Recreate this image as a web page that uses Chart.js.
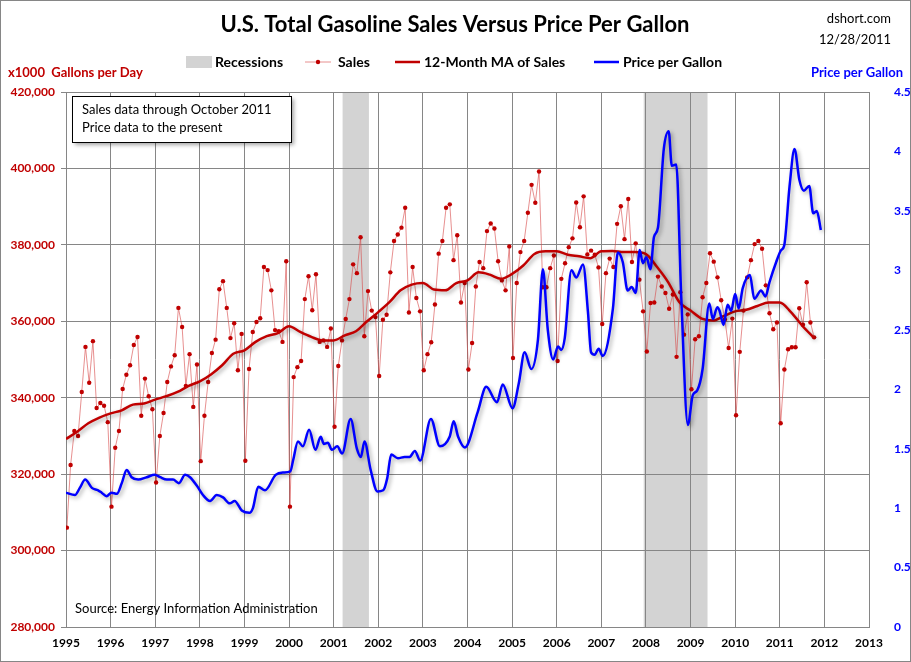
<!DOCTYPE html>
<html>
<head>
<meta charset="utf-8">
<script src="https://cdn.jsdelivr.net/npm/chart.js@4.4.1/dist/chart.umd.min.js"></script>
<style>
  html, body { margin: 0; padding: 0; background: #fff; }
  #wrap { width: 911px; height: 662px; position: relative; }
</style>
</head>
<body>
<div id="wrap"><canvas id="chart" width="911" height="662"></canvas></div>
<script>
const FONT = 'Lato, "Open Sans", sans-serif';

// monthly sales, x1000 gallons per day, Jan 1995 .. Oct 2011
const sales = [
  306000, 322400, 331300, 330000, 341500, 353300, 343900, 354800, 337300, 338600, 337900, 333600, // 1995
  311500, 326900, 331300, 342300, 346000, 348500, 353800, 355900, 335300, 345000, 340400, 337000, // 1996
  317800, 330000, 336000, 344100, 348200, 351100, 363500, 358500, 343100, 351400, 337600, 348700, // 1997
  323400, 335300, 344100, 351700, 355200, 368400, 370500, 363500, 355600, 359500, 347200, 356700, // 1998
  323500, 347500, 357200, 359800, 360800, 374200, 373400, 368100, 357700, 357400, 354600, 375700, // 1999
  311500, 345400, 348000, 349600, 365800, 371800, 362900, 372300, 354600, 355000, 353300, 358100, // 2000
  332400, 348300, 355000, 360600, 365800, 374900, 372600, 382000, 356100, 367900, 362800, 361100, // 2001
  345700, 360400, 361700, 372800, 381000, 382700, 384500, 389700, 362300, 374200, 366100, 362600, // 2002
  347200, 351400, 354500, 364400, 377700, 381000, 389700, 390600, 376000, 382500, 364900, 370000, // 2003
  347400, 354300, 369100, 375500, 373900, 383600, 385600, 384300, 375700, 370700, 368100, 379600, // 2004
  350400, 370000, 378100, 381000, 388400, 395700, 391000, 399200, 368900, 368900, 373900, 377200, // 2005
  349600, 371100, 375200, 379400, 381700, 391100, 384600, 392700, 377500, 378500, 377400, 374100, // 2006
  359300, 372600, 376400, 374200, 385500, 390100, 381500, 392000, 375500, 380400, 370900, 362600, // 2007
  352100, 364800, 364900, 371700, 369100, 367400, 363300, 367000, 350700, 367600, 356500, 361800, // 2008
  342200, 355300, 356100, 366300, 370000, 377800, 375600, 371500, 365500, 360500, 353000, 360700, // 2009
  335400, 352000, 362800, 371500, 376000, 380200, 381000, 379000, 369400, 362100, 357900, 359700, // 2010
  333300, 347400, 352700, 353200, 353200, 363400, 359100, 370200, 359700, 355800                  // 2011
];

// 12-month moving average, read quarterly
const maYears = [
  1995.00, 1995.25, 1995.50, 1995.75, 1996.00, 1996.25, 1996.50, 1996.75,
  1997.00, 1997.25, 1997.50, 1997.75, 1998.00, 1998.25, 1998.50, 1998.75,
  1999.00, 1999.25, 1999.50, 1999.75, 2000.00, 2000.25, 2000.50, 2000.75,
  2001.00, 2001.25, 2001.50, 2001.75, 2002.00, 2002.25, 2002.50, 2002.75,
  2003.00, 2003.25, 2003.50, 2003.75, 2004.00, 2004.25, 2004.50, 2004.75,
  2005.00, 2005.25, 2005.50, 2005.75, 2006.00, 2006.25, 2006.50, 2006.75,
  2007.00, 2007.25, 2007.50, 2007.75, 2008.00, 2008.25, 2008.50, 2008.75,
  2009.00, 2009.25, 2009.50, 2009.75, 2010.00, 2010.25, 2010.50, 2010.75,
  2011.00, 2011.25, 2011.50, 2011.77
];
const maValues = [
  329200, 331100, 333300, 334800, 335900, 336700, 338200, 338500,
  339500, 340400, 341500, 343100, 344300, 346100, 348500, 351500,
  352400, 354600, 356100, 356900, 358700, 357200, 355900, 355000,
  355000, 356300, 357400, 360000, 362400, 365000, 368100, 369600,
  370000, 368300, 368100, 370000, 370700, 372800, 372200, 371100,
  372400, 374600, 377600, 378300, 378300, 377400, 377000, 376500,
  378300, 378400, 378100, 378100, 377600, 374200, 370200, 365000,
  362800, 360700, 360200, 361400, 362600, 363000, 364000, 364900,
  364900, 362400, 358900, 355600
];

// price per gallon ($)
const priceYears = [
  1995.00, 1995.20, 1995.31, 1995.43, 1995.58, 1995.72, 1995.80, 1995.91,
  1996.02, 1996.14, 1996.25, 1996.36, 1996.47, 1996.62, 1996.81, 1996.99,
  1997.11, 1997.26, 1997.40, 1997.53, 1997.67, 1997.78, 1997.93, 1998.07,
  1998.23, 1998.38, 1998.52, 1998.67, 1998.78, 1998.94, 1999.11, 1999.19,
  1999.31, 1999.46, 1999.70, 1999.87, 2000.03, 2000.09, 2000.20, 2000.31,
  2000.45, 2000.59, 2000.71, 2000.78, 2000.87, 2000.96, 2001.08, 2001.19,
  2001.38, 2001.52, 2001.61, 2001.69, 2001.83, 2001.98, 2002.11, 2002.20,
  2002.29, 2002.44, 2002.59, 2002.70, 2002.82, 2002.94, 2003.18, 2003.38,
  2003.60, 2003.69, 2003.79, 2003.94, 2004.23, 2004.42, 2004.66, 2004.79,
  2005.01, 2005.15, 2005.28, 2005.43, 2005.58, 2005.69, 2005.80, 2005.92,
  2006.03, 2006.10, 2006.18, 2006.33, 2006.44, 2006.59, 2006.70, 2006.77,
  2006.85, 2006.94, 2007.03, 2007.26, 2007.37, 2007.48, 2007.59, 2007.68,
  2007.77, 2007.86, 2007.93, 2008.01, 2008.10, 2008.18, 2008.27, 2008.40,
  2008.51, 2008.58, 2008.68, 2008.79, 2008.94, 2009.05, 2009.15, 2009.27,
  2009.42, 2009.50, 2009.60, 2009.65, 2009.74, 2009.83, 2009.91, 2010.00,
  2010.08, 2010.17, 2010.33, 2010.43, 2010.58, 2010.68, 2010.77, 2010.92,
  2011.03, 2011.10, 2011.22, 2011.33, 2011.44, 2011.54, 2011.66, 2011.75,
  2011.83, 2011.92
];
const priceValues = [
  1.13, 1.11, 1.17, 1.24, 1.17, 1.15, 1.13, 1.10,
  1.13, 1.12, 1.21, 1.32, 1.26, 1.24, 1.26, 1.28,
  1.26, 1.24, 1.24, 1.21, 1.28, 1.26, 1.19, 1.11,
  1.06, 1.11, 1.09, 1.04, 1.06, 0.98, 0.96, 1.00,
  1.18, 1.15, 1.28, 1.30, 1.31, 1.40, 1.56, 1.52,
  1.66, 1.49, 1.60, 1.54, 1.55, 1.49, 1.52, 1.46,
  1.75, 1.50, 1.43, 1.56, 1.32, 1.14, 1.15, 1.25,
  1.45, 1.42, 1.43, 1.43, 1.48, 1.40, 1.75, 1.52,
  1.60, 1.73, 1.60, 1.51, 1.81, 2.02, 1.89, 2.04,
  1.84, 2.05, 2.31, 2.17, 2.42, 3.01, 2.50, 2.25,
  2.36, 2.33, 2.43, 3.00, 2.94, 3.05, 2.65, 2.31,
  2.29, 2.34, 2.28, 2.68, 3.15, 3.07, 2.83, 2.86,
  2.81, 3.17, 3.06, 3.11, 3.01, 3.28, 3.36, 4.02,
  4.17, 3.88, 3.89, 2.79, 1.70, 1.95, 1.99, 2.17,
  2.72, 2.59, 2.69, 2.66, 2.54, 2.71, 2.66, 2.80,
  2.68, 2.85, 2.96, 2.76, 2.83, 2.78, 2.90, 3.07,
  3.17, 3.21, 3.71, 4.02, 3.76, 3.67, 3.71, 3.48,
  3.50, 3.34
];

// recession bands (decimal years)
const recStart = [2001.20, 2007.95];
const recEnd = [2001.79, 2009.38];

const salesPts = sales.map((v, i) => ({ x: 1995.02 + i / 12, y: v }));
const maPts = maYears.map((x, i) => ({ x, y: maValues[i] }));
const pricePts = priceYears.map((x, i) => ({ x, y: priceValues[i] }));

const recessionBands = {
  id: 'recessionBands',
  beforeDraw(chart){
    const { ctx, chartArea: a, scales: { x } } = chart;
    ctx.save();
    ctx.fillStyle = '#d3d3d3';
    recStart.forEach((s, i) => {
      const x0 = x.getPixelForValue(s);
      const x1 = x.getPixelForValue(recEnd[i]);
      ctx.fillRect(x0, a.top, x1 - x0, a.bottom - a.top);
    });
    ctx.restore();
  }
};

const lineShadow = {
  id: 'lineShadow',
  beforeDatasetDraw(chart, args){
    if(!chart.data.datasets[args.index].shadow) return;
    const ctx = chart.ctx;
    ctx.save();
    ctx.shadowColor = 'rgba(0,0,0,0.35)';
    ctx.shadowBlur = 4;
    ctx.shadowOffsetX = 2;
    ctx.shadowOffsetY = 2;
  },
  afterDatasetDraw(chart, args){
    if(!chart.data.datasets[args.index].shadow) return;
    chart.ctx.restore();
  }
};

const decorations = {
  id: 'decorations',
  afterDraw(chart){
    const ctx = chart.ctx;
    ctx.save();
    ctx.textBaseline = 'middle';

    // title
    ctx.fillStyle = '#000';
    ctx.font = 'bold 22px ' + FONT;
    ctx.textAlign = 'center';
    ctx.fillText('U.S. Total Gasoline Sales Versus Price Per Gallon', 455, 25);

    ctx.font = '13px ' + FONT;
    ctx.textAlign = 'right';
    ctx.fillText('dshort.com', 891, 19);
    ctx.fillText('12/28/2011', 891, 40);

    // legend
    ctx.font = 'bold 14px ' + FONT;
    ctx.textAlign = 'left';
    ctx.fillStyle = '#d3d3d3';
    ctx.fillRect(186, 56, 26, 12);
    ctx.fillStyle = '#000';
    ctx.fillText('Recessions', 215, 62);

    ctx.strokeStyle = 'rgba(215,70,70,0.6)';
    ctx.lineWidth = 1;
    ctx.beginPath(); ctx.moveTo(305, 62); ctx.lineTo(331, 62); ctx.stroke();
    ctx.fillStyle = '#c00000';
    ctx.beginPath(); ctx.arc(318, 62, 2.2, 0, Math.PI * 2); ctx.fill();
    ctx.fillStyle = '#000';
    ctx.fillText('Sales', 338, 62);

    ctx.strokeStyle = '#c00000';
    ctx.lineWidth = 2.5;
    ctx.beginPath(); ctx.moveTo(395, 62); ctx.lineTo(420, 62); ctx.stroke();
    ctx.fillText('12-Month MA of Sales', 424, 62);

    ctx.strokeStyle = '#0000ff';
    ctx.beginPath(); ctx.moveTo(594, 62); ctx.lineTo(619, 62); ctx.stroke();
    ctx.fillText('Price per Gallon', 623, 62);

    // axis titles
    ctx.font = 'bold 13px ' + FONT;
    ctx.fillStyle = '#c00000';
    ctx.fillText('x1000  Gallons per Day', 8, 73);
    ctx.fillStyle = '#0000ff';
    ctx.textAlign = 'right';
    ctx.fillText('Price per Gallon', 903, 73);

    // note box
    ctx.textAlign = 'left';
    ctx.save();
    ctx.shadowColor = 'rgba(0,0,0,0.35)';
    ctx.shadowBlur = 4;
    ctx.shadowOffsetX = 3;
    ctx.shadowOffsetY = 3;
    ctx.fillStyle = '#fff';
    ctx.fillRect(72, 96, 219, 46);
    ctx.restore();
    ctx.strokeStyle = '#000';
    ctx.lineWidth = 1;
    ctx.strokeRect(72.5, 96.5, 219, 46);
    ctx.fillStyle = '#000';
    ctx.font = '13px ' + FONT;
    ctx.fillText('Sales data through October 2011', 82, 110);
    ctx.fillText('Price data to the present', 82, 128);

    ctx.fillText('Source: Energy Information Administration', 75, 609);

    // outer frame
    ctx.strokeStyle = '#868686';
    ctx.strokeRect(0.5, 0.5, 910, 661);
    ctx.restore();
  }
};

const tickFont = { family: FONT, weight: 'bold', size: 12 };

new Chart(document.getElementById('chart'), {
  type: 'line',
  data: {
    datasets: [
      {
        label: 'Price per Gallon',
        data: pricePts,
        yAxisID: 'y1',
        borderColor: '#0000ff',
        borderWidth: 2.5,
        pointRadius: 0,
        cubicInterpolationMode: 'monotone',
        shadow: true,
        order: 1
      },
      {
        label: '12-Month MA of Sales',
        data: maPts,
        yAxisID: 'y',
        borderColor: '#c00000',
        borderWidth: 2.5,
        pointRadius: 0,
        cubicInterpolationMode: 'monotone',
        shadow: true,
        order: 2
      },
      {
        label: 'Sales',
        data: salesPts,
        yAxisID: 'y',
        borderColor: 'rgba(215,70,70,0.6)',
        borderWidth: 1,
        pointRadius: 2.2,
        pointBackgroundColor: '#c00000',
        pointBorderWidth: 0,
        tension: 0,
        order: 3
      }
    ]
  },
  options: {
    responsive: false,
    animation: false,
    devicePixelRatio: 1,
    layout: { padding: { top: 92, left: 0, right: 0, bottom: 0 } },
    plugins: { legend: { display: false }, title: { display: false }, tooltip: { enabled: false } },
    scales: {
      x: {
        type: 'linear', min: 1995, max: 2013,
        ticks: { stepSize: 1, autoSkip: false, maxRotation: 0, color: '#000', font: tickFont, padding: 9, callback: v => String(v) },
        grid: { color: '#868686', lineWidth: 1, tickLength: 0 },
        border: { color: '#868686' },
        afterFit: s => { s.height = 35; }
      },
      y: {
        position: 'left', min: 280000, max: 420000,
        ticks: { stepSize: 20000, color: '#c00000', font: tickFont, padding: 6, callback: v => v.toLocaleString('en-US') },
        grid: { color: '#868686', lineWidth: 1, tickLength: 5 },
        border: { color: '#868686' },
        afterFit: s => { s.width = 66; }
      },
      y1: {
        position: 'right', min: 0, max: 4.5,
        ticks: { stepSize: 0.5, color: '#0000ff', font: tickFont, padding: 17, callback: v => String(v) },
        grid: { display: false, drawOnChartArea: false },
        border: { display: false },
        afterFit: s => { s.width = 42; }
      }
    }
  },
  plugins: [recessionBands, lineShadow, decorations]
});
</script>
</body>
</html>
